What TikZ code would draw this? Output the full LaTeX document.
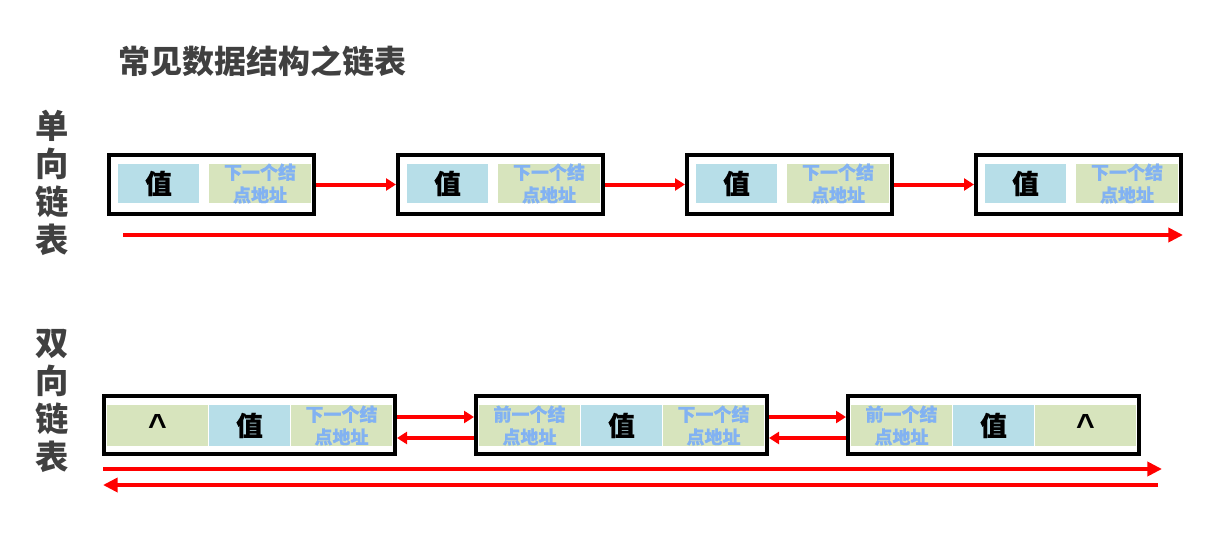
\documentclass[tikz,border=0pt]{standalone}
\usepackage{fontspec}
\setmainfont{Noto Sans CJK SC}
\newfontfamily\latinb{Liberation Sans}
\usetikzlibrary{arrows.meta}
\definecolor{cellblue}{HTML}{B7DEE8}
\definecolor{cellgreen}{HTML}{D7E4BD}
\definecolor{addrblue}{HTML}{82B2F2}
\definecolor{titlegray}{HTML}{404040}
\definecolor{linkred}{HTML}{FF0000}
\begin{document}
\begin{tikzpicture}[x=0.75pt,y=-0.75pt,
  sbox/.style={draw=black, line width=3pt, minimum width=153.75pt, minimum height=44.25pt, inner sep=0pt},
  dbox/.style={draw=black, line width=3pt, minimum width=218.25pt, minimum height=43.5pt, inner sep=0pt},
  svalcell/.style={fill=cellblue, minimum width=60.75pt, minimum height=29.25pt, inner sep=0pt, font=\bfseries\addfontfeatures{FakeBold=0.6}\fontsize{20}{24}\selectfont, text=black},
  saddrcell/.style={fill=cellgreen, minimum width=76.5pt, minimum height=29.25pt, inner sep=0pt, align=center, font=\bfseries\addfontfeatures{FakeBold=0.8}\fontsize{13.5}{17}\selectfont, text=addrblue},
  dvalcell/.style={fill=cellblue, minimum width=60.75pt, minimum height=30.75pt, inner sep=0pt, font=\bfseries\addfontfeatures{FakeBold=0.6}\fontsize{20}{24}\selectfont, text=black},
  daddrcell/.style={fill=cellgreen, minimum width=75.75pt, minimum height=30.75pt, inner sep=0pt, align=center, font=\bfseries\addfontfeatures{FakeBold=0.8}\fontsize{13.5}{17}\selectfont, text=addrblue},
  dnullcell/.style={fill=cellgreen, minimum width=75.75pt, minimum height=30.75pt, inner sep=0pt, font=\latinb\bfseries\fontsize{24}{28}\selectfont, text=black},
  sidelabel/.style={align=center, text=titlegray, font=\bfseries\fontsize{25}{28.5}\selectfont},
  link/.style={draw=linkred, line width=3pt, -{Triangle[length=7.5pt,width=9pt]}},
  longlink/.style={draw=linkred, line width=3.5pt, -{Triangle[length=11pt,width=10.5pt]}}
]
\useasboundingbox (0,0) rectangle (1228,535);

% title
\node[text=titlegray, font=\bfseries\fontsize{24}{28}\selectfont] (title) at (262,61) {常见数据结构之链表};

% side labels
\node[sidelabel] (lsingle) at (52.5,182.5) {单\\向\\链\\表};
\node[sidelabel] (ldouble) at (52.5,401) {双\\向\\链\\表};

% singly linked list
\foreach \i/\cx in {1/211.5, 2/500.5, 3/789.5, 4/1078.5} {
  \node[sbox] (s\i) at (\cx,184.5) {};
  \node[svalcell] (s\i v) at (\cx-53,183.5) {值};
  \node[saddrcell] (s\i a) at (\cx+48.5,183.5) {下一个结\\点地址};
}
\draw[link] (s1.east) -- (s2.west);
\draw[link] (s2.east) -- (s3.west);
\draw[link] (s3.east) -- (s4.west);
\coordinate (sl1) at (123,235);
\coordinate (sl2) at (1183,235);
\draw[longlink] (sl1) -- (sl2);

% doubly linked list
\node[dbox] (d1) at (249.5,425) {};
\node[dnullcell] (d1p) at (249.5-92,425.5) {\raisebox{-5pt}{\textasciicircum}};
\node[dvalcell] (d1v) at (249.5,425.5) {值};
\node[daddrcell] (d1n) at (249.5+92,425.5) {下一个结\\点地址};

\node[dbox] (d2) at (621.5,425) {};
\node[daddrcell] (d2p) at (621.5-92,425.5) {前一个结\\点地址};
\node[dvalcell] (d2v) at (621.5,425.5) {值};
\node[daddrcell] (d2n) at (621.5+92,425.5) {下一个结\\点地址};

\node[dbox] (d3) at (993.5,425) {};
\node[daddrcell] (d3p) at (993.5-92,425.5) {前一个结\\点地址};
\node[dvalcell] (d3v) at (993.5,425.5) {值};
\node[dnullcell] (d3n) at (993.5+92,425.5) {\raisebox{-5pt}{\textasciicircum}};

\draw[link] ([yshift=6pt]d1.east) -- ([yshift=6pt]d2.west);
\draw[link] ([yshift=-9.75pt]d2.west) -- ([yshift=-9.75pt]d1.east);
\draw[link] ([yshift=6pt]d2.east) -- ([yshift=6pt]d3.west);
\draw[link] ([yshift=-9.75pt]d3.west) -- ([yshift=-9.75pt]d2.east);

\coordinate (dl1) at (103,469);
\coordinate (dl2) at (1162,469);
\coordinate (dl3) at (1158,485);
\coordinate (dl4) at (103,485);
\draw[longlink] (dl1) -- (dl2);
\draw[longlink] (dl3) -- (dl4);
\end{tikzpicture}
\end{document}
